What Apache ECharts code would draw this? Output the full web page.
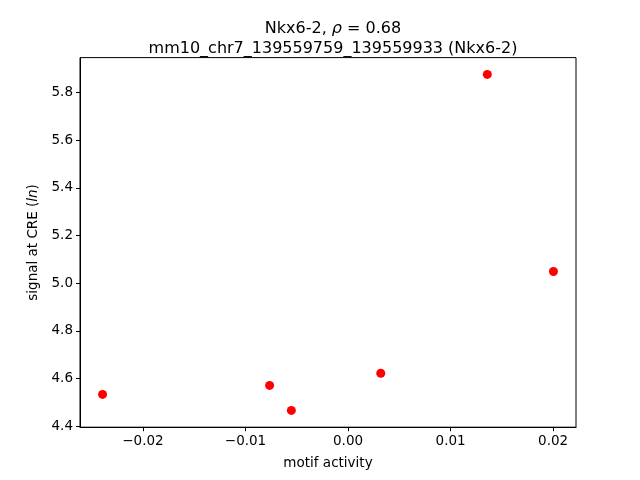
<!DOCTYPE html>
<html>
<head>
<meta charset="utf-8">
<script src="https://cdn.jsdelivr.net/npm/echarts@6/dist/echarts.min.js"></script>
<style>html,body{margin:0;padding:0;background:#fff}#c{width:640px;height:480px}</style>
</head>
<body>
<div id="c"></div>
<script>
const motifActivity = [-0.02394, -0.00765, -0.00553, 0.00319, 0.01358, 0.02003];
const signalCRE = [4.533, 4.571, 4.466, 4.622, 5.876, 5.049];
const xTicks = [-0.02, -0.01, 0.00, 0.01, 0.02];
const yTicks = [4.4, 4.6, 4.8, 5.0, 5.2, 5.4, 5.6, 5.8];

const points = motifActivity.map((x, i) => [x, signalCRE[i]]);
function span(a) {
  const lo = Math.min(...a), hi = Math.max(...a), m = (hi - lo) * 0.05;
  return [lo - m, hi + m];
}
const [xMin, xMax] = span(motifActivity);
const [yMin, yMax] = span(signalCRE);
const fmt = (v, d) => (v < -1e-12 ? '\u2212' : '') + Math.abs(v).toFixed(d);
const font = 'DejaVu Sans';

const chart = echarts.init(document.getElementById('c'), null, {renderer: 'canvas'});
chart.setOption({
  animation: false,
  backgroundColor: '#fff',
  title: {
    text: '{n|Nkx6-2, }{i|ρ}{n| = 0.68}\n{n|mm10_chr7_139559759_139559933 (Nkx6-2)}',
    left: 328, top: 14, textAlign: 'center',
    textStyle: {
      fontFamily: font, fontSize: 16, fontWeight: 'normal', color: '#000', lineHeight: 20,
      rich: {
        n: {fontFamily: font, fontSize: 16, fontWeight: 'normal', color: '#000', lineHeight: 20},
        i: {fontFamily: font, fontSize: 16, fontWeight: 'normal', color: '#000', fontStyle: 'italic', lineHeight: 20}
      }
    }
  },
  grid: {left: 80, right: 64, top: 57.6, bottom: 52.8, show: true, borderColor: '#000', borderWidth: 1, backgroundColor: 'transparent'},
  xAxis: {
    type: 'value', min: xMin, max: xMax,
    name: 'motif activity', nameLocation: 'middle', nameGap: 29,
    nameTextStyle: {fontFamily: font, fontSize: 13.5, color: '#000'},
    splitLine: {show: false},
    axisLine: {show: true, onZero: false, lineStyle: {color: '#000', width: 1}},
    axisTick: {show: true, length: 4, lineStyle: {color: '#000'}, customValues: xTicks},
    axisLabel: {fontFamily: font, fontSize: 13.5, color: '#000', margin: 7, customValues: xTicks, formatter: v => fmt(v, 2)}
  },
  yAxis: {
    type: 'value', min: yMin, max: yMax,
    name: '{n|signal at CRE (}{i|ln}{n|)}', nameLocation: 'middle', nameGap: 40, nameRotate: 90,
    nameTextStyle: {
      fontFamily: font, fontSize: 13.5, color: '#000',
      rich: {
        n: {fontFamily: font, fontSize: 13.5, color: '#000'},
        i: {fontFamily: font, fontSize: 13.5, color: '#000', fontStyle: 'italic'}
      }
    },
    splitLine: {show: false},
    axisLine: {show: true, onZero: false, lineStyle: {color: '#000', width: 1}},
    axisTick: {show: true, length: 4, lineStyle: {color: '#000'}, customValues: yTicks},
    axisLabel: {fontFamily: font, fontSize: 13.5, color: '#000', margin: 7, customValues: yTicks, formatter: v => fmt(v, 1)}
  },
  series: [{
    type: 'scatter', data: points, symbol: 'circle', symbolSize: 9,
    itemStyle: {color: '#ff0000', opacity: 1}
  }]
});
</script>
</body>
</html>
